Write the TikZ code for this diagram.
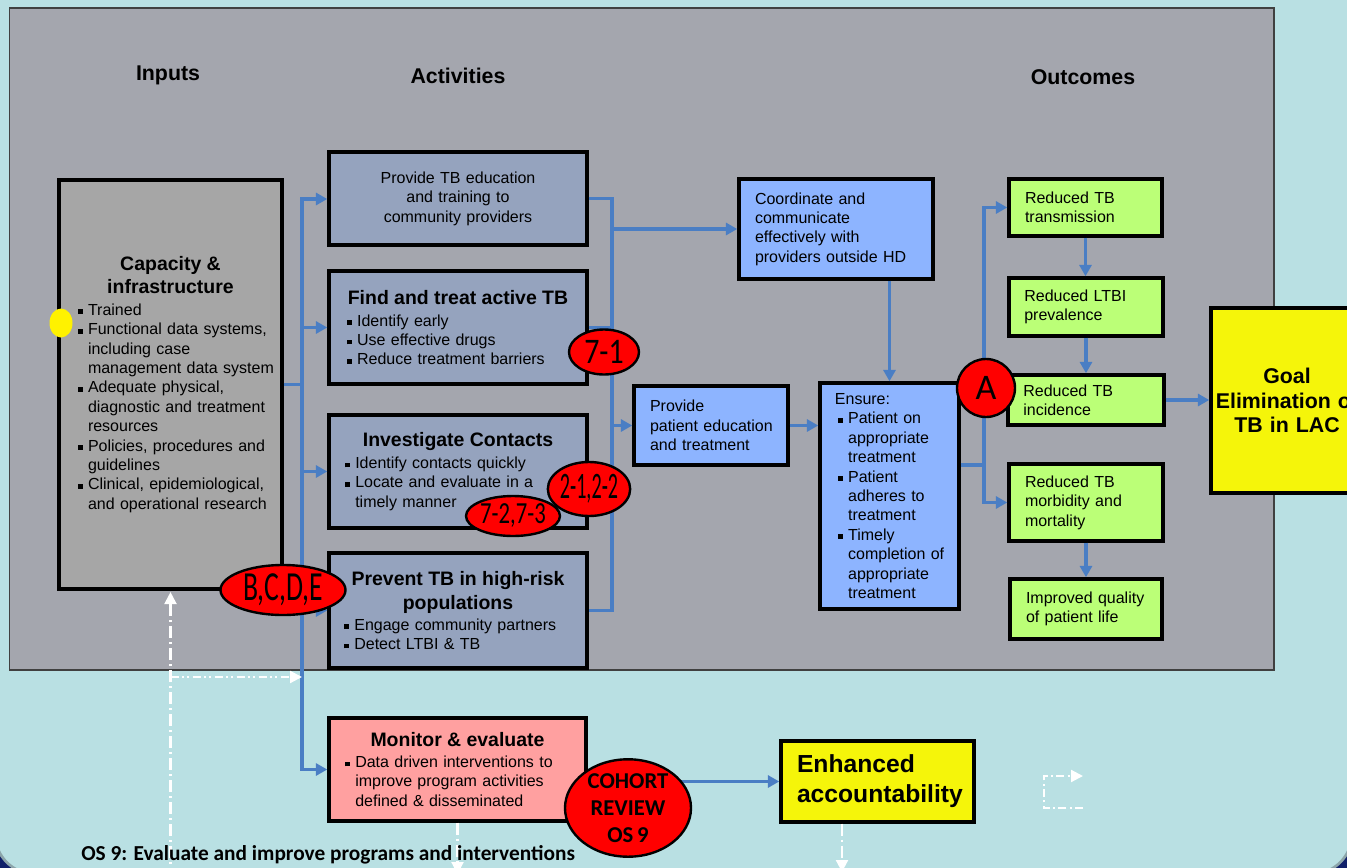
\documentclass[tikz,border=0pt]{standalone}
\usepackage{fontspec}
\setmainfont{Liberation Sans}
\newfontfamily\carlito{Carlito}
\usetikzlibrary{shapes.geometric,arrows.meta}
\definecolor{bgc}{RGB}{185,224,227}
\definecolor{panelc}{RGB}{164,166,174}
\definecolor{capg}{RGB}{166,166,166}
\definecolor{actb}{RGB}{149,163,190}
\definecolor{lblue}{RGB}{141,180,255}
\definecolor{lgreen}{RGB}{187,255,119}
\definecolor{yel}{RGB}{245,245,10}
\definecolor{pinkb}{RGB}{255,160,160}
\definecolor{connc}{RGB}{74,126,196}
\definecolor{navyc}{RGB}{16,32,105}
\newcommand\ttl{\fontsize{14.6}{17}\selectfont\bfseries}
\newcommand\bsq{\makebox[7.5pt][l]{\rule[0.9pt]{3.6pt}{3.6pt}}}
\newcommand\bulat[1]{\hspace*{#1}\bsq}
\newcommand\contat[1]{\hspace*{#1}\hspace*{7.5pt}}
\newcommand\hdr{\fontsize{16}{19}\selectfont\bfseries}
\tikzset{
  box/.style={draw=black, line width=2.6pt, inner sep=0pt, align=left,
    font=\fontsize{12}{14.55}\selectfont},
  conn/.style={draw=connc, line width=2.4pt},
  arr/.style={conn, -{Triangle[length=8.5pt,width=9pt]}},
  ell/.style={ellipse, draw=black, line width=1.8pt, fill=red, inner sep=0pt},
  wdash/.style={draw=white, line width=1.6pt, dash pattern=on 9pt off 3pt on 1.5pt off 3pt,
    -{Triangle[length=9pt,width=9pt]}},
  wdd/.style={draw=white, line width=1.6pt, dash pattern=on 6pt off 2.5pt on 1.5pt off 2.5pt on 1.5pt off 2.5pt,
    -{Triangle[length=9pt,width=9pt]}},
}
\begin{document}
\begin{tikzpicture}[x=0.75pt,y=-0.75pt]
\useasboundingbox (0,0) rectangle (1347,868);
\clip (0,0) rectangle (1347,868);
% background
\fill[navyc] (0,0) rectangle (1347,868);
\draw[fill=bgc, draw={rgb,255:red,140;green,165;blue,170}, line width=2pt, rounded corners=30pt] (-5,-100) rectangle (1352,874);
\draw[fill=panelc, draw=black!75, line width=0.8pt] (9.5,8) rectangle (1274,670);

% headers
\node[font=\hdr] (hIn) at (168,75) {Inputs};
\node[font=\hdr] (hAct) at (458,76) {Activities};
\node[font=\hdr] (hOut) at (1083,77) {Outcomes};

% input box
\node[box, fill=capg, minimum width=167.25pt, text width=167.25pt, minimum height=306.75pt] (cap) at (170.5,384.5) {%
\makebox[\linewidth]{\ttl Capacity \&}\\[2.6pt]
\makebox[\linewidth]{\ttl infrastructure}\\[2pt]
\bulat{14.25pt}Trained\\
\bulat{14.25pt}Functional data systems,\\
\contat{14.25pt}including case\\
\contat{14.25pt}management data system\\
\bulat{14.25pt}Adequate physical,\\
\contat{14.25pt}diagnostic and treatment\\
\contat{14.25pt}resources\\
\bulat{14.25pt}Policies, procedures and\\
\contat{14.25pt}guidelines\\
\bulat{14.25pt}Clinical, epidemiological,\\
\contat{14.25pt}and operational research};

% activities
\node[box, fill=actb, align=center, minimum width=193.5pt, text width=193.5pt, minimum height=69.75pt] (edu) at (458,198.5) {Provide TB education\\and training to\\community providers};

\node[box, fill=actb, minimum width=193.5pt, text width=193.5pt, minimum height=84.75pt] (find) at (458,327.5) {%
\makebox[\linewidth]{\ttl Find and treat active TB}\\[2pt]
\bulat{13.6pt}Identify early\\
\bulat{13.6pt}Use effective drugs\\
\bulat{13.6pt}Reduce treatment barriers};

\node[box, fill=actb, minimum width=193.5pt, text width=193.5pt, minimum height=84.75pt] (inv) at (458,471.5) {%
\makebox[\linewidth]{\ttl Investigate Contacts}\\[2pt]
\bulat{12.2pt}Identify contacts quickly\\
\bulat{12.2pt}Locate and evaluate in a\\
\contat{12.2pt}timely manner};

\node[box, fill=actb, minimum width=193.5pt, text width=193.5pt, minimum height=86.25pt] (prev) at (458,610.5) {%
\makebox[\linewidth]{\ttl Prevent TB in high-risk}\\[3.4pt]
\makebox[\linewidth]{\ttl populations}\\[1.2pt]
\bulat{11.5pt}Engage community partners\\
\bulat{11.5pt}Detect LTBI \& TB};

\node[box, fill=pinkb, minimum width=192.75pt, text width=192.75pt, minimum height=77.25pt] (mon) at (457.5,769.5) {%
\makebox[\linewidth]{\ttl Monitor \& evaluate}\\[1.2pt]
\bulat{12.2pt}Data driven interventions to\\
\contat{12.2pt}improve program activities\\
\contat{12.2pt}defined \& disseminated};

\node[box, fill=lblue, minimum width=145.5pt, text width=145.5pt, minimum height=75pt] (coord) at (836,229) {%
\hspace*{12pt}Coordinate and\\
\hspace*{12pt}communicate\\
\hspace*{12pt}effectively with\\
\hspace*{12pt}providers outside HD};

\node[box, fill=lblue, minimum width=115.5pt, text width=115.5pt, minimum height=59.25pt] (ped) at (711,425.5) {%
\hspace*{12pt}Provide\\
\hspace*{12pt}patient education\\
\hspace*{12pt}and treatment};

\node[box, fill=lblue, minimum width=104.25pt, text width=104.25pt, minimum height=169.5pt] (ens) at (889.5,496) {%
\hspace*{11.2pt}Ensure:\\
\bulat{13.6pt}Patient on\\
\contat{13.6pt}appropriate\\
\contat{13.6pt}treatment\\
\bulat{13.6pt}Patient\\
\contat{13.6pt}adheres to\\
\contat{13.6pt}treatment\\
\bulat{13.6pt}Timely\\
\contat{13.6pt}completion of\\
\contat{13.6pt}appropriate\\
\contat{13.6pt}treatment};

% outcomes
\node[box, fill=lgreen, minimum width=114.75pt, text width=114.75pt, minimum height=42.75pt] (tr) at (1085.5,207.5) {%
\hspace*{12pt}Reduced TB\\ \hspace*{12pt}transmission};
\node[box, fill=lgreen, minimum width=115.5pt, text width=115.5pt, minimum height=43.5pt] (ltbi) at (1086,307) {%
\hspace*{11.5pt}Reduced LTBI\\ \hspace*{11.5pt}prevalence};
\node[box, fill=lgreen, minimum width=117pt, text width=117pt, minimum height=37.5pt] (inc) at (1086,400) {%
\hspace*{11.5pt}Reduced TB\\ \hspace*{11.5pt}incidence};
\node[box, fill=lgreen, minimum width=115.5pt, text width=115.5pt, minimum height=57.75pt] (mor) at (1086,502.5) {%
\hspace*{12pt}Reduced TB\\ \hspace*{12pt}morbidity and\\ \hspace*{12pt}mortality};
\node[box, fill=lgreen, minimum width=114pt, text width=114pt, minimum height=45pt] (imp) at (1086,609) {%
\hspace*{12pt}Improved quality\\ \hspace*{12pt}of patient life};

\node[box, fill=yel, align=center, minimum width=114pt, text width=114pt, minimum height=138.75pt,
  font=\fontsize{16}{18.4}\selectfont\bfseries] (goal) at (1287,400.5) {Goal\\Elimination of\\TB in LAC};

\node[box, fill=yel, minimum width=144.75pt, text width=144.75pt, minimum height=60.75pt,
  font=\fontsize{18.5}{22.5}\selectfont\bfseries] (enh) at (877.5,781.5) {%
\hspace*{12pt}Enhanced\\ \hspace*{12pt}accountability};

% left trunk
\coordinate (tTop) at (302,199);
\draw[arr] (cap.east -| tTop) -- (tTop) -- (tTop -| edu.west);
\draw[arr] (cap.east -| tTop) -- (mon.west -| tTop) -- (mon.west);
\draw[conn] (cap.east) -- (cap.east -| tTop);
\draw[arr] (find.west -| tTop) -- (find.west);
\draw[arr] (inv.west -| tTop) -- (inv.west);
\draw[arr] (prev.west -| tTop) -- (prev.west);

% right bus
\coordinate (bx) at (612,0);
\draw[conn] (edu.east) -- (edu.east -| bx) -- (prev.east -| bx) -- (prev.east);
\draw[conn] (find.east) -- (find.east -| bx);
\draw[conn] (inv.east) -- (inv.east -| bx);
\draw[arr] (coord.west -| bx) -- (coord.west);
\draw[arr] (ped.west -| bx) -- (ped.west);
\draw[arr] (ped.east) -- (ped.east -| ens.west);
\draw[arr] (coord.south -| ens.north) -- (ens.north);
\coordinate (ej) at (984,465);
\draw[conn] (ej -| ens.east) -- (ej);
\draw[arr] (ej) -- (tr.west -| ej) -- (tr.west);
\draw[arr] (ej) -- (mor.west -| ej) -- (mor.west);
\draw[arr] (tr.south) -- (tr.south |- ltbi.north);
\draw[arr] (ltbi.south) -- (ltbi.south |- inc.north);
\draw[arr] (inc.east) -- (inc.east -| goal.west);
\draw[arr] (mor.south) -- (mor.south |- imp.north);
\draw[arr] (mon.east |- enh.west) -- (enh.west);

% white dash-dot lines
\coordinate (wb) at (170.5,880);
\coordinate (wh) at (170.5,677);
\draw[wdash, shorten >=1pt] (wb) -- (cap.south);
\draw[wdd] (wh) -- (wh -| tTop);
\coordinate (mb) at (457.5,874);
\draw[wdash] (mon.south) -- (mb);
\coordinate (eb) at (842,872);
\draw[wdash] (eb |- enh.south) -- (eb);
\coordinate (i1) at (1083,808);
\coordinate (i2) at (1044,808);
\coordinate (i3) at (1044,776);
\coordinate (i4) at (1083,776);
\draw[wdash, dash pattern=on 6pt off 2.5pt on 1.5pt off 2.5pt] (i1) -- (i2) -- (i3) -- (i4);

% yellow dot
\node[fill=yellow, ellipse, minimum width=17.25pt, minimum height=21.75pt, inner sep=0pt] (ydot) at (61,323) {};

% red ellipses
\node[ell, minimum width=52.5pt, minimum height=33.75pt] (e71) at (604,352)
  {\scalebox{0.83}[1]{\fontsize{27}{27}\selectfont\carlito 7-1}};
\node[ell, minimum width=57pt, minimum height=40.5pt] (e2122) at (589,489)
  {\scalebox{0.54}[1]{\fontsize{28}{28}\selectfont\carlito 2-1,2-2}};
\node[ell, minimum width=70.5pt, minimum height=30pt] (e7273) at (513,516)
  {\scalebox{0.74}[1]{\fontsize{23}{23}\selectfont\carlito 7-2,7-3}};
\node[ell, minimum width=93.75pt, minimum height=37.5pt] (ebcde) at (283,590)
  {\scalebox{0.67}[1]{\fontsize{31}{31}\selectfont\carlito B,C,D,E}};
\node[ell, circle, minimum size=43.5pt] (eA) at (986,388)
  {\fontsize{27}{27}\selectfont\carlito A};
\node[ell, minimum width=94.5pt, minimum height=69.75pt, align=center,
  font=\fontsize{17}{20.2}\selectfont\carlito\bfseries] (ecoh) at (628,808) {COHORT\\REVIEW\\OS\,9};

% bottom text
\node[anchor=west, inner sep=0pt, font=\fontsize{16}{18}\selectfont\carlito\bfseries] (os9txt) at (81,855)
  {OS 9: Evaluate and improve programs and interventions};
\end{tikzpicture}
\end{document}
